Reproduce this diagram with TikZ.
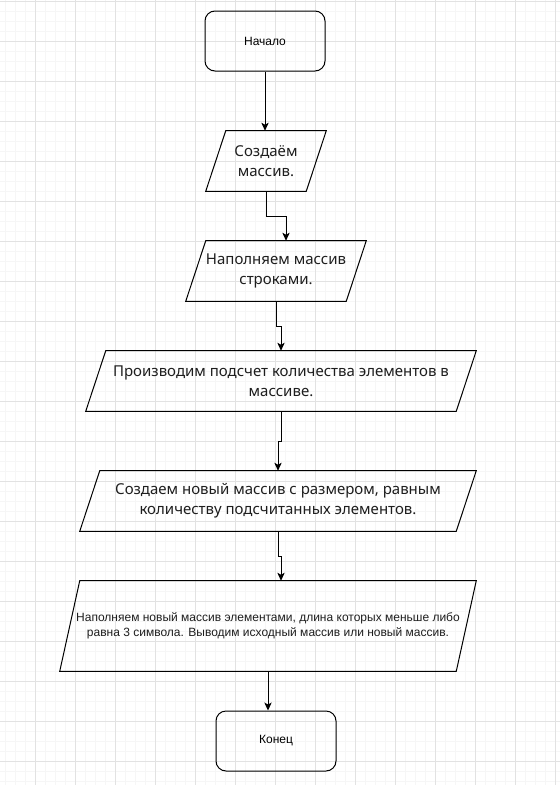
\documentclass[tikz,border=0pt]{standalone}
\usepackage{fontspec}
\setmainfont{Noto Sans}
\newfontfamily\arialfont{Liberation Sans}
\usetikzlibrary{arrows.meta,positioning}

\definecolor{gridmajor}{HTML}{E2E2E2}
\definecolor{gridminor}{HTML}{F6F6F6}
\definecolor{textcol}{HTML}{1E1E1E}

\begin{document}
\begin{tikzpicture}[
    x=0.75pt, y=-0.75pt,
    termbox/.style={rectangle, rounded corners=7.5pt, draw, line width=0.75pt, minimum width=90pt, minimum height=45pt, font=\arialfont\fontsize{9}{11}\selectfont},
    iobox/.style={rectangle, inner sep=0pt, align=center, text=textcol, font=\fontsize{11.25}{15}\selectfont},
    smallio/.style={iobox, font=\arialfont\fontsize{9}{11.25}\selectfont},
    outline/.style={draw, line width=0.75pt},
    arrow/.style={-{Stealth[length=6pt,width=5.5pt,inset=1.5pt]}, line width=0.75pt}
]

% Background and grid
\fill[white] (0,0) rectangle (560,785);
\useasboundingbox (0,0) rectangle (560,785);
\foreach \x in {5,15,...,555} \draw[gridminor, line width=0.6pt] (\x,0) -- (\x,785);
\foreach \y in {11,21,...,781} \draw[gridminor, line width=0.6pt] (0,\y) -- (560,\y);
\foreach \x in {35,75,...,555} \draw[gridmajor, line width=0.75pt] (\x,0) -- (\x,785);
\foreach \y in {1,41,...,785} \draw[gridmajor, line width=0.75pt] (0,\y) -- (560,\y);

% Start
\node[termbox] (start) at (265,41) {Начало};

% Input/output blocks
\node[iobox, minimum width=90pt, minimum height=45pt] (create) at (266,161) {Создаём\\массив.};
\node[iobox, minimum width=135pt, minimum height=45pt] (fill) at (276,271) {Наполняем массив\\строками.};
\node[iobox, minimum width=292.5pt, minimum height=45pt] (count) at (281,381) {Производим подсчет количества элементов в\\массиве.};
\node[iobox, minimum width=297pt, minimum height=45pt] (newarr) at (278,501) {Создаем новый массив с размером, равным\\количеству подсчитанных элементов.};
\node[smallio, minimum width=312pt, minimum height=67.5pt] (out) at (268,626) {Наполняем новый массив элементами, длина которых меньше либо\\равна 3 символа. Выводим исходный массив или новый массив.};

\foreach \n in {create,fill,count,newarr,out}
    \draw[outline] ([xshift=15pt]\n.north west) -- (\n.north east) -- ([xshift=-15pt]\n.south east) -- (\n.south west) -- cycle;

% End
\node[termbox] (end) at (276,741) {Конец};

% Arrows
\draw[arrow] (start) -- (start |- create.north);
\draw[arrow] (create.south) -- ++(0,25) -| ([xshift=7.5pt]fill.north);
\draw[arrow] (fill.south) -- ++(0,25) -| (count.north);
\draw[arrow] (count.south) -- ++(0,30) -| (newarr.north);
\draw[arrow] (newarr.south) -- ++(0,25) -| ([xshift=9.75pt]out.north);
\draw[arrow] (out.south) -- (out.south |- end.north);

\end{tikzpicture}
\end{document}
